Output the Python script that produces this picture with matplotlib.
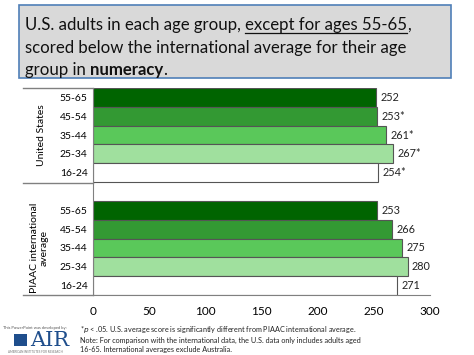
import matplotlib
matplotlib.use("Agg")
import matplotlib.pyplot as plt
from matplotlib.patches import Rectangle
from matplotlib.lines import Line2D

plt.rcParams['font.family'] = ['Lato', 'DejaVu Sans']

age_groups = ["55-65", "45-54", "35-44", "25-34", "16-24"]
us_scores = [252, 253, 261, 267, 254]
us_labels = ["252", "253*", "261*", "267*", "254*"]
intl_scores = [253, 266, 275, 280, 271]
intl_labels = ["253", "266", "275", "280", "271"]
group_names = ["United States", "PIAAC international\naverage"]
xticks = [0, 50, 100, 150, 200, 250, 300]
colors = ["#006400", "#339933", "#5ac85a", "#a0e09e", "#ffffff"]

W, H = 474, 355
fig = plt.figure(figsize=(W / 100, H / 100), dpi=100)

def fx(px):
    return px / W

def fy(py):
    return 1 - py / H

ax = fig.add_axes([fx(93), fy(295), fx(430) - fx(93), fy(88) - fy(295)])

pos_us = list(range(5))
pos_intl = [p + 6 for p in range(5)]
ax.barh(pos_us, us_scores, height=1.0, color=colors, edgecolor="#555555", linewidth=0.8)
ax.barh(pos_intl, intl_scores, height=1.0, color=colors, edgecolor="#555555", linewidth=0.8)
for p, v, lab in zip(pos_us, us_scores, us_labels):
    ax.text(v + 4, p, lab, va="center", ha="left", fontsize=7.8, color="#222222")
for p, v, lab in zip(pos_intl, intl_scores, intl_labels):
    ax.text(v + 4, p, lab, va="center", ha="left", fontsize=7.8, color="#222222")

ax.set_xlim(0, 300)
ax.set_ylim(10.5, -0.5)
ax.set_xticks(xticks)
ax.set_xticklabels([str(t) for t in xticks], fontsize=8.5)
ax.set_yticks(pos_us + pos_intl)
ax.set_yticklabels(age_groups + age_groups, fontsize=7.5)
ax.tick_params(axis="both", length=0, pad=4)
ax.tick_params(axis="x", pad=8)
for s in ["top", "right"]:
    ax.spines[s].set_visible(False)
ax.spines["left"].set_color("#808080")
ax.spines["bottom"].set_color("#808080")

# separator lines in the label area
for ypx in [88, 182.5, 295]:
    fig.add_artist(Line2D([fx(23), fx(93)], [fy(ypx), fy(ypx)], color="#808080", lw=1.0))

fig.text(fx(42), fy(135), group_names[0], rotation=90, ha="center", va="center", fontsize=7.5)
fig.text(fx(39), fy(248), group_names[1], rotation=90, ha="center", va="center",
         fontsize=7.5, multialignment="center", linespacing=1.1)

# title box
fig.add_artist(Rectangle((fx(19), fy(78)), fx(451) - fx(19), fy(5) - fy(78),
                         facecolor="#d9d9d9", edgecolor="#4f7fb8", lw=1.2))

fig.canvas.draw()
renderer = fig.canvas.get_renderer()
fs = 12.1

def put(xpx, ypx, s, **kw):
    t = fig.text(fx(xpx), fy(ypx), s, fontsize=fs, va="baseline", ha="left", color="#111111", **kw)
    bb = t.get_window_extent(renderer=renderer)
    return t, bb

t1, b1 = put(25, 30, "U.S. adults in each age group, ")
x2 = b1.x1
t2, b2 = put(x2, 30, "except for ages 55-65")
fig.add_artist(Line2D([b2.x0 / W, b2.x1 / W], [fy(32.5), fy(32.5)], color="#111111", lw=0.9))
put(b2.x1, 30, ",")
put(25, 53, "scored below the international average for their age")
t5, b5 = put(25, 75, "group in ")
t6, b6 = put(b5.x1, 75, "numeracy", fontweight="bold")
put(b6.x1, 75, ".")

# footnote
foot = ("*$p$ < .05. U.S. average score is significantly different from PIAAC international average.\n"
        "Note: For comparison with the international data, the U.S. data only includes adults aged\n"
        "16-65. International averages exclude Australia.")
fig.text(fx(80), fy(324), foot, fontsize=5.2, va="top", ha="left", linespacing=1.3, color="#222222")

# AIR logo
fig.text(fx(3), fy(329), "This PowerPoint was developed by:", fontsize=3, color="#555555", va="baseline")
fig.text(fx(30), fy(346), "AIR", fontsize=15, color="#1f4e8c", family="DejaVu Serif", va="baseline")
fig.add_artist(Rectangle((fx(14), fy(346)), fx(13), fy(334) - fy(346), facecolor="#1f4e8c", edgecolor="none"))
fig.text(fx(8), fy(353), "AMERICAN INSTITUTES FOR RESEARCH", fontsize=2.2, color="#777777", va="baseline")

fig.savefig("out.png", dpi=100)
